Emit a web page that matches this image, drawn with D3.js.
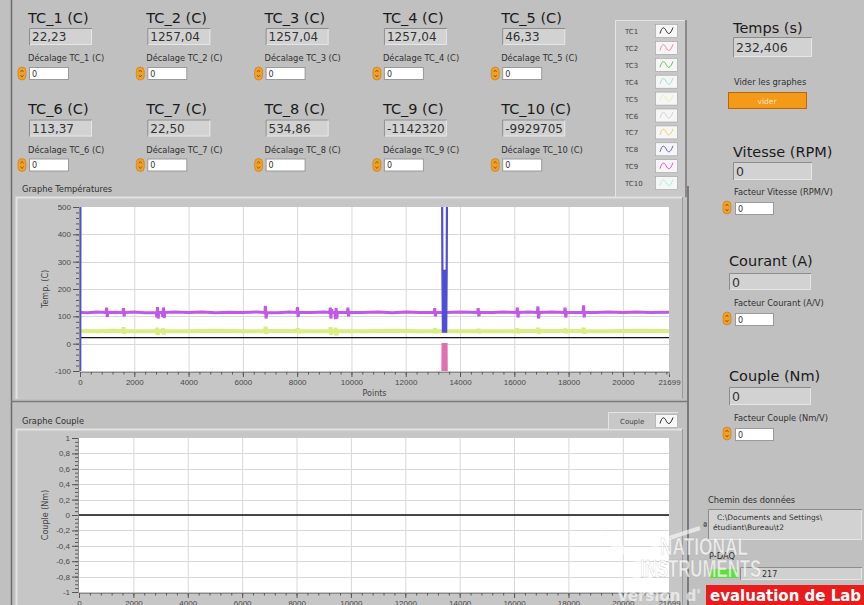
<!DOCTYPE html>
<html><head><meta charset="utf-8">
<script src="https://cdn.jsdelivr.net/npm/d3@7"></script>
<style>body{margin:0;background:#c0c0c0;overflow:hidden}svg{display:block}</style>
</head><body><svg id="c" width="864" height="605"></svg>
<script>
// ---------------- DATA ----------------
const tcLabels = ["TC_1 (C)","TC_2 (C)","TC_3 (C)","TC_4 (C)","TC_5 (C)","TC_6 (C)","TC_7 (C)","TC_8 (C)","TC_9 (C)","TC_10 (C)"];
const tcValues = ["22,23","1257,04","1257,04","1257,04","46,33","113,37","22,50","534,86","-1142320","-9929705"];
const offsetLabels = ["Décalage TC_1 (C)","Décalage TC_2 (C)","Décalage TC_3 (C)","Décalage TC_4 (C)","Décalage TC_5 (C)","Décalage TC_6 (C)","Décalage TC_7 (C)","Décalage TC_8 (C)","Décalage TC_9 (C)","Décalage TC_10 (C)"];
const offsetValues = ["0","0","0","0","0","0","0","0","0","0"];
const legendNames = ["TC1","TC2","TC3","TC4","TC5","TC6","TC7","TC8","TC9","TC10"];

const tempXTicks = [0,2000,4000,6000,8000,10000,12000,14000,16000,18000,20000,21699];
const tempYTicks = [-100,0,100,200,300,400,500];
const coupleXTicks = [0,2000,4000,6000,8000,10000,12000,14000,16000,18000,20000,21699];
const coupleYTicks = [-1,-0.8,-0.6,-0.4,-0.2,0,0.2,0.4,0.6,0.8,1];
const coupleYTickLabels = ["-1","-0,8","-0,6","-0,4","-0,2","0","0,2","0,4","0,6","0,8","1"];

// temperature series [point, value]
const tc1Series = [[0,22],[21699,22]];
const tc5Series = [[0,46],[600,45],[1200,47],[1580,46],[1600,60],[1625,36],[1650,46],[2300,45],[2820,46],[2840,58],[2865,32],[2890,46],[3040,46],[3060,56],[3085,34],[3110,46],[4000,45],[5000,47],[6000,45],[6820,46],[6840,62],[6865,36],[6890,46],[8000,46],[8020,56],[8045,38],[8070,46],[9000,45],[9210,46],[9230,60],[9255,32],[9280,47],[9400,46],[9420,58],[9445,30],[9470,46],[10500,45],[11500,47],[12500,45],[13060,46],[13080,56],[13105,38],[13130,46],[14000,45],[14660,46],[14680,54],[14705,38],[14730,46],[15500,45],[16090,46],[16110,56],[16135,38],[16160,46],[16860,46],[16880,58],[16905,36],[16930,46],[17860,46],[17880,55],[17905,38],[17930,46],[18530,46],[18550,58],[18575,37],[18600,46],[19500,45],[20500,47],[21699,46]];
const tc6Series = [[0,114],[300,113],[600,116],[960,114],[980,132],[1005,98],[1030,114],[1300,115],[1580,114],[1600,130],[1625,100],[1650,114],[2000,116],[2400,113],[2810,114],[2830,96],[2855,134],[2880,92],[2905,115],[3030,114],[3050,98],[3075,132],[3100,94],[3125,114],[3500,116],[4000,114],[4500,116],[5000,113],[5500,115],[6000,114],[6500,116],[6810,114],[6830,138],[6855,92],[6880,114],[7300,113],[7700,116],[7990,114],[8010,134],[8035,98],[8060,115],[8500,114],[9000,116],[9200,114],[9220,132],[9245,92],[9270,126],[9295,114],[9390,115],[9410,90],[9435,130],[9460,92],[9485,115],[9850,114],[9870,132],[9895,100],[9920,115],[10400,114],[11000,116],[11500,113],[12000,116],[12500,114],[13050,114],[13070,130],[13095,100],[13120,115],[13500,114],[14000,116],[14650,114],[14670,130],[14695,100],[14720,115],[15200,114],[15600,116],[16090,114],[16110,132],[16135,96],[16160,114],[16500,116],[16850,114],[16870,136],[16895,92],[16920,114],[17400,116],[17850,114],[17870,132],[17895,96],[17920,114],[18530,114],[18550,140],[18575,96],[18600,115],[19000,114],[19500,116],[20000,114],[20500,116],[21000,114],[21699,115]];
const tc8Series = [[0,560],[8,-160],[16,560],[13340,560],[13350,285],[13370,40],[13390,270],[13410,40],[13430,270],[13450,40],[13470,270],[13490,40],[13510,285],[13520,560],[21699,560]];
const tc9Series = [[13345,-200],[13355,2],[13380,-200],[13405,2],[13430,-200],[13455,2],[13480,-200],[13505,2],[13520,-200]];
const coupleSeries = [[0,0],[21699,0]];

const rightValues = {temps:"232,406", vitesse:"0", courant:"0", couple:"0"};

// ---------------- STYLES ----------------
const BG = "#c0c0c0";
const F = "DejaVu Sans";
const legendColors = ["#303030","#f08898","#60c060","#a8dcd4","#f0f0a8","#d4d4d4","#f0d060","#6060d0","#e050e0","#a8f0e0"];

const svg = d3.select("#c");
svg.append("rect").attr("width",864).attr("height",605).attr("fill",BG);

svg.append("line").attr("x1",11.5).attr("x2",11.5).attr("y1",0).attr("y2",605).attr("stroke","#6c6c6c").attr("stroke-width",1.5);

function sunkenBox(g,x,y,w,h,fill){
  g.append("rect").attr("x",x).attr("y",y).attr("width",w).attr("height",h).attr("fill",fill);
  g.append("path").attr("d",`M${x+0.5},${y+h}V${y+0.5}H${x+w}`).attr("stroke","#8c8c8c").attr("fill","none");
  g.append("path").attr("d",`M${x+w-0.5},${y+1}V${y+h-0.5}H${x+1}`).attr("stroke","#e6e6e6").attr("fill","none");
}
function spinner(g,x,y){
  g.append("rect").attr("x",x).attr("y",y).attr("width",8).attr("height",13).attr("rx",4).attr("fill","#f0a028").attr("stroke","#c87810").attr("stroke-width",0.6);
  g.append("path").attr("d",`M${x+2.5},${y+5}l1.5,-2l1.5,2M${x+2.5},${y+8}l1.5,2l1.5,-2`).attr("stroke","#8a5000").attr("fill","none").attr("stroke-width",0.8);
}
function inputBox(g,x,y,w,h,val){
  g.append("rect").attr("x",x+0.5).attr("y",y+0.5).attr("width",w).attr("height",h).attr("fill","#fff").attr("stroke","#9a9a9a");
  g.append("text").attr("x",x+3).attr("y",y+h-2.5).attr("font-family",F).attr("font-size",8).attr("fill","#333").text(val);
}
function squiggle(g,x,y,color){
  g.append("path").attr("d",`M${x+4},${y+9}C${x+6},${y+2} ${x+8},${y+2} ${x+10},${y+6}S${x+14},${y+11} ${x+17},${y+3}`)
   .attr("fill","none").attr("stroke",color).attr("stroke-width",1);
}

// ---------------- TOP TC PANEL ----------------
const tcPanel = svg.append("g");
tcLabels.forEach((lab,i)=>{
  const col=i%5,row=Math.floor(i/5);
  const x=28+col*118.3, y0=row===0?0:91.5;
  tcPanel.append("text").attr("x",x).attr("y",y0+22.5).attr("font-family",F).attr("font-size",14.5).attr("fill","#1a1a1a").text(lab);
  sunkenBox(tcPanel,x+1,y0+28,63,17,"#d2d2d2");
  tcPanel.append("text").attr("x",x+4).attr("y",y0+41).attr("font-family",F).attr("font-size",12).attr("fill","#333").text(tcValues[i]);
  tcPanel.append("text").attr("x",x).attr("y",y0+61).attr("font-family",F).attr("font-size",8.3).attr("fill","#303030").text(offsetLabels[i]);
  spinner(tcPanel,x-10,y0+67);
  inputBox(tcPanel,x+1,y0+67,39,12,offsetValues[i]);
});

// Temperature legend box
const lg = svg.append("g");
lg.append("rect").attr("x",615).attr("y",20).attr("width",70).attr("height",177).attr("fill","#c8c8c8");
lg.append("path").attr("d","M615.5,197V20.5H685").attr("stroke","#e4e4e4").attr("fill","none");
lg.append("path").attr("d","M686,20V197").attr("stroke","#8a8a8a").attr("stroke-width",2).attr("fill","none");
legendNames.forEach((n,i)=>{
  const cy=31+i*16.9;
  lg.append("text").attr("x",625).attr("y",cy+3).attr("font-family",F).attr("font-size",7).attr("fill","#444").text(n);
  lg.append("rect").attr("x",655.5).attr("y",cy-6.5).attr("width",22).attr("height",13).attr("fill","#f6f6f6").attr("stroke","#a0a0a0").attr("stroke-width",0.6);
  squiggle(lg,656,cy-6.5,legendColors[i]);
});

// ---------------- RIGHT PANEL ----------------
const rp = svg.append("g");
function bigLabel(x,y,t){rp.append("text").attr("x",x).attr("y",y).attr("font-family",F).attr("font-size",14.5).attr("fill","#1a1a1a").text(t);}
function smallLabel(x,y,t){rp.append("text").attr("x",x).attr("y",y).attr("font-family",F).attr("font-size",8.3).attr("fill","#303030").text(t);}
bigLabel(733,33,"Temps (s)");
sunkenBox(rp,733,37,79,20,"#d2d2d2");
rp.append("text").attr("x",736).attr("y",52).attr("font-family",F).attr("font-size",12.5).attr("fill","#333").text(rightValues.temps);
smallLabel(734,85,"Vider les graphes");
rp.append("rect").attr("x",728.5).attr("y",92.5).attr("width",78).attr("height",16).attr("fill","#f59a18").attr("stroke","#b86808");
rp.append("text").attr("x",767).attr("y",103.5).attr("text-anchor","middle").attr("font-family",F).attr("font-size",7.5).attr("fill","#fde6c0").text("vider");

bigLabel(733,157,"Vitesse (RPM)");
sunkenBox(rp,733,162,79,18,"#d2d2d2");
rp.append("text").attr("x",736).attr("y",176).attr("font-family",F).attr("font-size",12.5).attr("fill","#333").text(rightValues.vitesse);
smallLabel(734,195,"Facteur Vitesse (RPM/V)");
spinner(rp,723,201); inputBox(rp,735,202,38,12,"0");

bigLabel(729,265.5,"Courant (A)");
sunkenBox(rp,729,273,82,17,"#d2d2d2");
rp.append("text").attr("x",732).attr("y",287).attr("font-family",F).attr("font-size",12.5).attr("fill","#333").text(rightValues.courant);
smallLabel(734,306,"Facteur Courant (A/V)");
spinner(rp,723,312); inputBox(rp,735,313,38,12,"0");

bigLabel(729,380.5,"Couple (Nm)");
sunkenBox(rp,729,387,82,18,"#d2d2d2");
rp.append("text").attr("x",732).attr("y",401).attr("font-family",F).attr("font-size",12.5).attr("fill","#333").text(rightValues.couple);
smallLabel(734,421,"Facteur Couple (Nm/V)");
spinner(rp,723,427); inputBox(rp,735,428,38,12,"0");

smallLabel(708,503,"Chemin des données");
sunkenBox(rp,708,509,154,31,"#d2d2d2");
rp.append("text").attr("x",717).attr("y",520).attr("font-family",F).attr("font-size",7.5).attr("fill","#333").text("C:\\Documents and Settings\\");
rp.append("text").attr("x",713).attr("y",530).attr("font-family",F).attr("font-size",7.5).attr("fill","#333").text("étudiant\\Bureau\\t2");
rp.append("text").attr("x",703).attr("y",529).attr("font-family",F).attr("font-size",9).attr("fill","#333").text("ª");
smallLabel(709,559,"P-DAQ");
rp.append("rect").attr("x",710).attr("y",569).attr("width",28).attr("height",9).attr("fill","#5ee03a");
sunkenBox(rp,740,567,122,13,"#d0d0d0");
rp.append("text").attr("x",762).attr("y",577).attr("font-family",F).attr("font-size",8).attr("fill","#333").text("217");

svg.append("line").attr("x1",688).attr("x2",688).attr("y1",186).attr("y2",605).attr("stroke","#7a7a7a").attr("stroke-width",2);
svg.append("line").attr("x1",11).attr("x2",688).attr("y1",401.5).attr("y2",401.5).attr("stroke","#7a7a7a").attr("stroke-width",1.5);

// ---------------- GRAPHS ----------------
function graph(cfg){
  const g = svg.append("g");
  g.append("rect").attr("x",cfg.fx).attr("y",cfg.fy).attr("width",cfg.fw).attr("height",cfg.fh).attr("fill","#c6c6c6");
  g.append("path").attr("d",`M${cfg.fx+0.5},${cfg.fy+cfg.fh}V${cfg.fy+0.5}H${cfg.fx+cfg.fw}`).attr("stroke","#e2e2e2").attr("stroke-width",2).attr("fill","none");
  g.append("path").attr("d",`M${cfg.fx+cfg.fw-0.5},${cfg.fy}V${cfg.fy+cfg.fh-0.5}`).attr("stroke","#9a9a9a").attr("fill","none");
  g.append("text").attr("x",22).attr("y",cfg.fy-5).attr("font-family",F).attr("font-size",8.3).attr("fill","#303030").text(cfg.title);

  const x = d3.scaleLinear().domain([0,21699]).range([cfg.l,cfg.r]);
  const y = d3.scaleLinear().domain(cfg.yd).range([cfg.b,cfg.t]);
  g.append("rect").attr("x",cfg.l).attr("y",cfg.t).attr("width",cfg.r-cfg.l).attr("height",cfg.b-cfg.t).attr("fill","#fff");
  g.append("g").selectAll("line").data(cfg.xt.filter(v=>v>0&&v<21699)).join("line")
    .attr("x1",d=>x(d)+0.5).attr("x2",d=>x(d)+0.5).attr("y1",cfg.t).attr("y2",cfg.b).attr("stroke","#d8d8d8");
  g.append("g").selectAll("line").data(cfg.yt.filter(v=>v>cfg.yd[0]&&v<cfg.yd[1])).join("line")
    .attr("x1",cfg.l).attr("x2",cfg.r).attr("y1",d=>Math.round(y(d))+0.5).attr("y2",d=>Math.round(y(d))+0.5).attr("stroke","#d8d8d8");

  const ax = g.append("g").attr("transform",`translate(${cfg.l-1},0)`)
    .call(d3.axisLeft(y).tickValues(cfg.yt).tickSize(6).tickPadding(2).tickFormat((d,i)=>cfg.ylab[i]));
  const axm = g.append("g").attr("transform",`translate(${cfg.l-1},0)`)
    .call(d3.axisLeft(y).tickValues(cfg.ym).tickSize(3).tickFormat(""));
  const bx = g.append("g").attr("transform",`translate(0,${cfg.b+1})`)
    .call(d3.axisBottom(x).tickValues(cfg.xt).tickSize(5).tickPadding(2).tickFormat(d=>String(d)));
  const bxm = g.append("g").attr("transform",`translate(0,${cfg.b+1})`)
    .call(d3.axisBottom(x).tickValues(cfg.xm).tickSize(2.5).tickFormat(""));
  [ax,axm,bx,bxm].forEach(a=>{
    a.selectAll("path.domain").attr("stroke","#8a8a8a");
    a.selectAll(".tick line").attr("stroke","#555");
    a.selectAll("text").attr("font-family","Liberation Sans").attr("font-size",8).attr("fill","#4a4a4a");
  });
  g.append("text").attr("transform",`translate(${cfg.ylx},${(cfg.t+cfg.b)/2}) rotate(-90)`).attr("text-anchor","middle")
    .attr("font-family",F).attr("font-size",8).attr("fill","#444").text(cfg.ylabel);
  if(cfg.xlabel) g.append("text").attr("x",(cfg.l+cfg.r)/2).attr("y",cfg.b+25).attr("text-anchor","middle")
    .attr("font-family",F).attr("font-size",8).attr("fill","#444").text(cfg.xlabel);

  const clipId="clip"+cfg.id;
  g.append("clipPath").attr("id",clipId).append("rect").attr("x",cfg.l).attr("y",cfg.t).attr("width",cfg.r-cfg.l+1).attr("height",cfg.b-cfg.t);
  const line = d3.line().x(d=>x(d[0])).y(d=>y(d[1]));
  const sg = g.append("g").attr("clip-path",`url(#${clipId})`);
  cfg.series.forEach(s=>{
    sg.append("path").datum(s.data).attr("d",line).attr("fill","none").attr("stroke",s.color).attr("stroke-width",s.w).attr("stroke-linejoin","bevel");
  });
  return g;
}

graph({id:"t",title:"Graphe Températures",fx:16,fy:197,fw:667,fh:202,l:80,r:669,t:207,b:371,yd:[-100,500],
  yt:tempYTicks, ylab:tempYTicks.map(String), ym:d3.range(-100,501,20), xt:tempXTicks, xm:d3.range(0,21699,400),
  ylabel:"Temp. (C)", ylx:48, xlabel:"Points",
  series:[{data:tc5Series,color:"#d6ee84",w:4},{data:tc6Series,color:"#c258ea",w:3},{data:tc1Series,color:"#111",w:1.4},
          {data:tc9Series,color:"#e070b0",w:2},{data:tc8Series,color:"#4e4ed6",w:2.2}]});

graph({id:"c",title:"Graphe Couple",fx:16,fy:429,fw:667,fh:180,l:79,r:669,t:438,b:592,yd:[-1,1],
  yt:coupleYTicks, ylab:coupleYTickLabels, ym:d3.range(-1,1.001,0.05), xt:coupleXTicks, xm:d3.range(0,21699,400),
  ylabel:"Couple (Nm)", ylx:48, xlabel:null,
  series:[{data:coupleSeries,color:"#111",w:1.4}]});

const cl = svg.append("g");
cl.append("rect").attr("x",608).attr("y",412).attr("width",70).attr("height",17).attr("fill","#c8c8c8");
cl.append("path").attr("d","M608.5,429V412.5H678").attr("stroke","#e4e4e4").attr("fill","none");
cl.append("text").attr("x",620).attr("y",423.5).attr("font-family",F).attr("font-size",7).attr("fill","#444").text("Couple");
cl.append("rect").attr("x",655.5).attr("y",414.5).attr("width",22).attr("height",13).attr("fill","#f6f6f6").attr("stroke","#a0a0a0").attr("stroke-width",0.6);
squiggle(cl,656,414.5,"#222");

// ---------------- WATERMARK ----------------
const wm = svg.append("g");
wm.append("path").attr("d","M600,532L640,560L655,585M612,545L645,566M640,560L663,540L700,528M645,566L652,595M628,583L648,570")
  .attr("stroke","#ffffff").attr("stroke-opacity",0.6).attr("stroke-width",4).attr("fill","none");
wm.append("text").attr("transform","translate(660,555) scale(0.72,1)").attr("font-family","Liberation Sans").attr("font-weight","bold").attr("font-size",24)
  .attr("fill","#fff").attr("fill-opacity",0.7).attr("stroke","#777").attr("stroke-opacity",0.35).attr("stroke-width",0.6).text("NATIONAL");
wm.append("text").attr("transform","translate(640,577) scale(0.7,1)").attr("font-family","Liberation Sans").attr("font-weight","bold").attr("font-size",24)
  .attr("fill","#fff").attr("fill-opacity",0.7).attr("stroke","#777").attr("stroke-opacity",0.35).attr("stroke-width",0.6).text("INSTRUMENTS");
wm.append("rect").attr("x",706).attr("y",585).attr("width",158).attr("height",20).attr("fill","#e81c1c");
wm.append("text").attr("x",617).attr("y",601).attr("font-family","DejaVu Sans").attr("font-weight","bold").attr("font-size",15)
  .attr("fill","#fff").attr("fill-opacity",0.6).text("Version d'");
wm.append("text").attr("x",710).attr("y",601).attr("font-family","DejaVu Sans").attr("font-weight","bold").attr("font-size",15)
  .attr("fill","#fff").text("evaluation de Lab");
</script></body></html>
